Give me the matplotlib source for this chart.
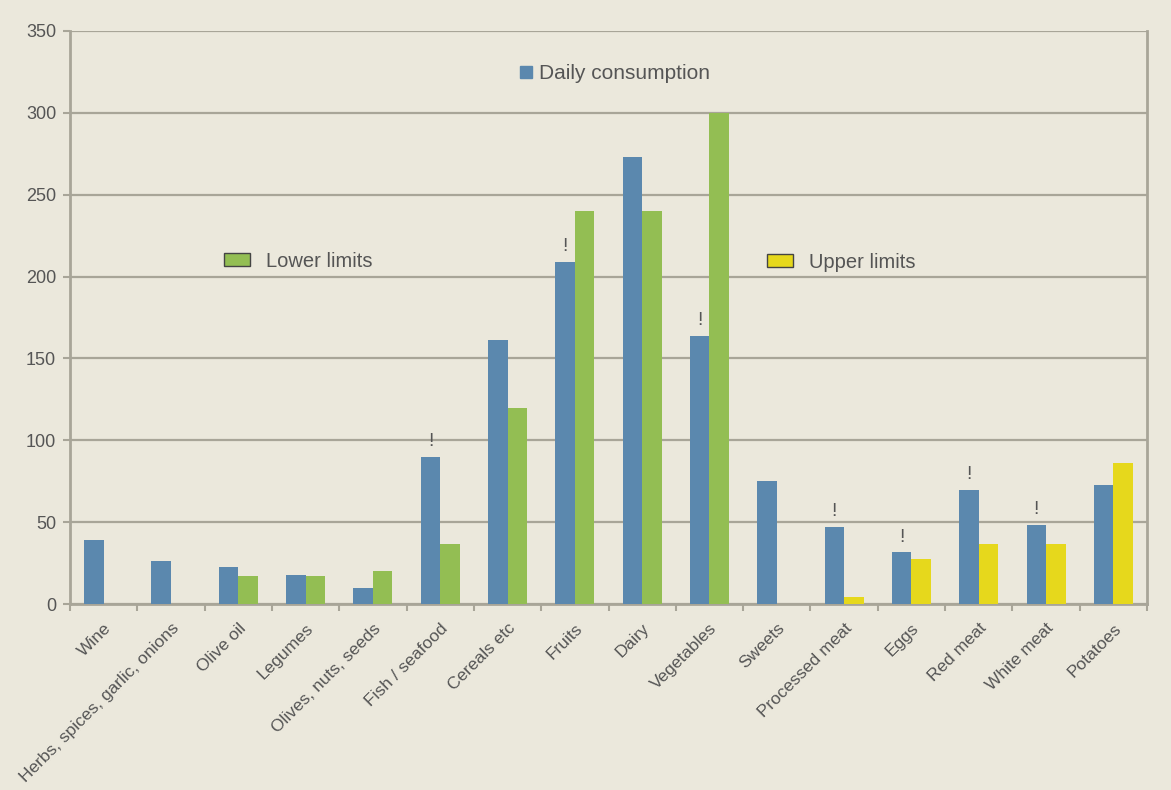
import numpy as np
import matplotlib
matplotlib.use("Agg")
import matplotlib.pyplot as plt
import matplotlib.transforms as mtransforms
from matplotlib.patches import Patch
from matplotlib.lines import Line2D

categories = [
    "Wine", "Herbs, spices, garlic, onions", "Olive oil", "Legumes",
    "Olives, nuts, seeds", "Fish / seafood", "Cereals etc", "Fruits",
    "Dairy", "Vegetables", "Sweets", "Processed meat", "Eggs",
    "Red meat", "White meat", "Potatoes",
]
daily = [39, 26, 22.5, 18, 10, 90, 161.5, 209, 273, 163.5, 75, 47, 31.5, 69.5, 48, 73]
lower = [np.nan, np.nan, 17, 17, 20, 36.5, 120, 240, 240, 300,
         np.nan, np.nan, np.nan, np.nan, np.nan, np.nan]
upper = [np.nan] * 11 + [4, 27.5, 36.5, 36.5, 86]
# categories where consumption is flagged
flagged = ["Fish / seafood", "Fruits", "Vegetables", "Processed meat",
           "Eggs", "Red meat", "White meat"]

BG = "#ebe8dc"
BLUE = "#5b88ae"
GREEN = "#93be53"
YELLOW = "#e6d81c"
GRID = "#a8a598"
TXT = "#555555"

plt.rcParams["font.family"] = ["Liberation Sans", "DejaVu Sans"]

fig = plt.figure(figsize=(11.71, 7.90), dpi=100, facecolor=BG)
ax = fig.add_axes([0.0598, 0.2354, 0.9197, 0.7254], facecolor=BG)

x = np.arange(len(categories))
w = 0.29
ax.bar(x - w / 2, daily, w, color=BLUE, zorder=3)
ax.bar(x + w / 2, lower, w, color=GREEN, zorder=3)
ax.bar(x + w / 2, upper, w, color=YELLOW, zorder=3)

for name in flagged:
    i = categories.index(name)
    ax.annotate("!", (x[i] - w / 2, daily[i]), xytext=(0, 5),
                textcoords="offset points", ha="center", va="bottom",
                fontsize=14, color=TXT)

ax.set_xlim(-0.5, len(categories) - 0.5)
ax.set_ylim(0, 350)
ax.set_yticks(np.arange(0, 351, 50))
ax.yaxis.grid(True, color=GRID, linewidth=1.6, zorder=0)
ax.set_axisbelow(True)

ax.set_xticks(x)
ax.set_xticklabels(categories, rotation=45, ha="right", rotation_mode="anchor",
                   fontsize=12.5, color=TXT)
# nudge the slanted labels a little to the left
shift = mtransforms.ScaledTranslation(-7 / 100, 0, fig.dpi_scale_trans)
for lab in ax.get_xticklabels():
    lab.set_transform(lab.get_transform() + shift)
ax.set_xticks(np.arange(-0.5, len(categories), 1), minor=True)
ax.tick_params(axis="x", which="major", length=0, pad=12)
ax.tick_params(axis="x", which="minor", length=5, width=1.5, color=GRID)
ax.tick_params(axis="y", length=5, width=1.5, color=GRID, labelsize=13,
               labelcolor=TXT, pad=5)

for side in ["left", "right", "bottom"]:
    ax.spines[side].set_color(GRID)
    ax.spines[side].set_linewidth(2)
ax.spines["top"].set_visible(False)

# three separate legend boxes placed inside the plot area
leg_daily = ax.legend(
    handles=[Line2D([], [], marker="s", linestyle="none", markersize=9,
                    markerfacecolor=BLUE, markeredgecolor=BLUE)],
    labels=["Daily consumption"], loc="center", bbox_to_anchor=(0.505, 0.925),
    frameon=False, fontsize=15, handlelength=0.8, handletextpad=0.2,
    labelcolor=TXT)
ax.add_artist(leg_daily)
leg_lower = ax.legend(
    handles=[Patch(facecolor=GREEN, edgecolor="#444444", linewidth=1)],
    labels=["Lower limits"], loc="center", bbox_to_anchor=(0.212, 0.598),
    frameon=False, fontsize=14.5, handlelength=1.3, handleheight=0.6,
    handletextpad=0.8, labelcolor=TXT)
ax.add_artist(leg_lower)
ax.legend(
    handles=[Patch(facecolor=YELLOW, edgecolor="#444444", linewidth=1)],
    labels=["Upper limits"], loc="center", bbox_to_anchor=(0.716, 0.596),
    frameon=False, fontsize=14.5, handlelength=1.3, handleheight=0.6,
    handletextpad=0.8, labelcolor=TXT)

fig.savefig("out.png", dpi=100, facecolor=BG)
